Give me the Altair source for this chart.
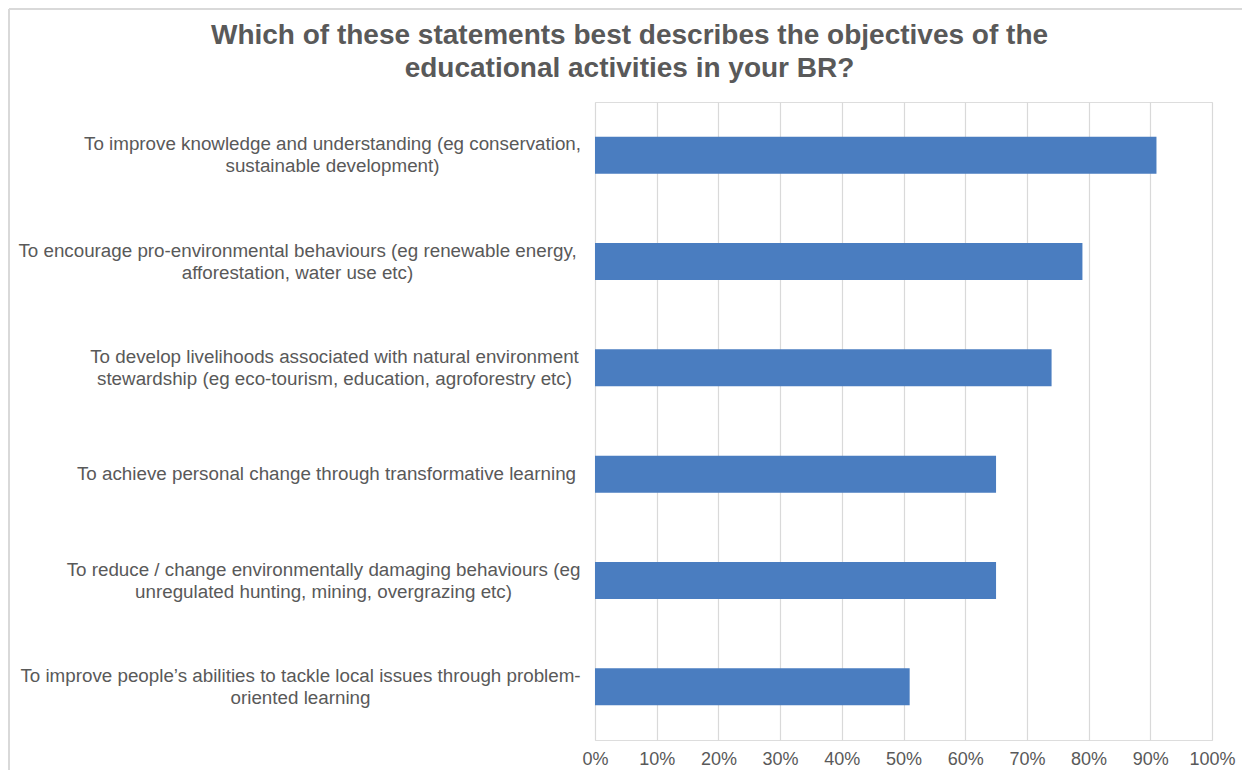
import altair as alt
import pandas as pd

categories = [
    "To improve knowledge and understanding (eg conservation,|sustainable development)",
    "To encourage pro-environmental behaviours (eg renewable energy,|afforestation, water use etc)",
    "To develop livelihoods associated with natural environment|stewardship (eg eco-tourism, education, agroforestry etc)",
    "To achieve personal change through transformative learning",
    "To reduce / change environmentally damaging behaviours (eg|unregulated hunting, mining, overgrazing etc)",
    "To improve people\u2019s abilities to tackle local issues through problem-|oriented learning",
]
values = [0.91, 0.79, 0.74, 0.65, 0.65, 0.51]
tick_values = [0, 0.1, 0.2, 0.3, 0.4, 0.5, 0.6, 0.7, 0.8, 0.9, 1.0]

df = pd.DataFrame({"cat": categories, "val": values})

GREY = "#595959"
FONT = "Liberation Sans"

# per-label horizontal padding (centre of the centred label block)
pad_prefixes = [
    ("To improve knowledge", 263),
    ("To encourage", 298),
    ("To develop", 261),
    ("To achieve", 269),
    ("To reduce", 272),
]
pad_cond = [
    {"test": f"indexof(datum.value, '{p}') == 0", "value": v} for p, v in pad_prefixes
]

bars = alt.Chart(df).mark_bar(color="#4a7dc0").encode(
    x=alt.X(
        "val:Q",
        scale=alt.Scale(domain=[0, 1], nice=False),
        axis=alt.Axis(
            values=tick_values,
            format=".0%",
            title=None,
            grid=True,
            gridColor="#d9d9d9",
            gridWidth=1.2,
            domain=False,
            ticks=False,
            labelFontSize=18,
            labelColor=GREY,
            labelFont=FONT,
            labelPadding=10,
            labelOverlap=False,
            labelFlush=False,
        ),
    ),
    y=alt.Y(
        "cat:N",
        sort=categories,
        scale=alt.Scale(paddingInner=0.652, paddingOuter=0.326),
        axis=alt.Axis(
            title=None,
            domain=False,
            ticks=False,
            grid=False,
            labelExpr="split(datum.label, '|')",
            labelAlign="center",
            labelBaseline="middle",
            labelFontSize=18.8,
            labelLineHeight=22,
            labelColor=GREY,
            labelFont=FONT,
            labelLimit=0,
            labelPadding={"condition": pad_cond, "value": 295},
            labelOffset={
                "condition": {"test": "indexof(datum.value, '|') >= 0", "value": -11},
                "value": 0,
            },
        ),
    ),
)

frame_left = alt.Chart(df).mark_rule(color="#d9d9d9", strokeWidth=1.5).encode(
    x=alt.value(-586), y=alt.value(-93), y2=alt.value(700)
)
frame_top = alt.Chart(df).mark_rule(color="#d9d9d9", strokeWidth=1.5).encode(
    x=alt.value(-586), x2=alt.value(660), y=alt.value(-93)
)

chart = (
    alt.layer(frame_left, frame_top, bars)
    .properties(
        width=617,
        height=638,
        autosize=alt.AutoSizeParams(type="none"),
        padding={"left": 587, "top": 94, "right": 30, "bottom": 30},
        title=alt.TitleParams(
            text=[
                "Which of these statements best describes the objectives of the",
                "educational activities in your BR?",
            ],
            font=FONT,
            fontSize=28,
            fontWeight="bold",
            color=GREY,
            anchor="middle",
            dx=-274,
            offset=-75,
            lineHeight=33,
        ),
    )
    .configure_view(stroke=None)
    .configure(background="white")
)

chart.save("out.html", embed_options={"renderer": "svg", "actions": False})
